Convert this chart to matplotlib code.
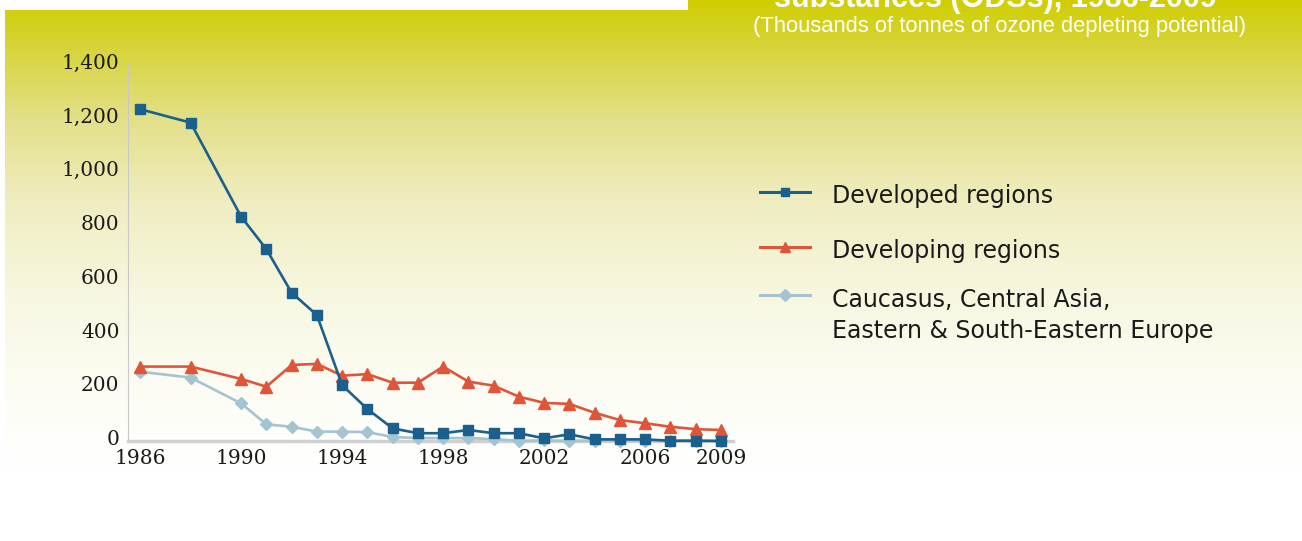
import numpy as np
import matplotlib
matplotlib.use("Agg")
import matplotlib.pyplot as plt
from matplotlib.lines import Line2D
from matplotlib.transforms import ScaledTranslation

# ---------------- data ----------------
years = [1986, 1988, 1990, 1991, 1992, 1993, 1994, 1995, 1996, 1997, 1998,
         1999, 2000, 2001, 2002, 2003, 2004, 2005, 2006, 2007, 2008, 2009]
developed = [1235, 1185, 835, 714, 552, 469, 208, 119, 47, 29, 29,
             41, 29, 29, 10, 25, 6, 6, 6, 1, 1, 0]
developing = [277, 277, 231, 202, 283, 287, 243, 249, 217, 217, 277,
              221, 206, 165, 142, 138, 105, 78, 66, 53, 44, 41]
caucasus = [258, 236, 140, 62, 53, 35, 35, 33, 15, 11, 11,
            11, 7, 1, 2, 1, 1, 1, 1, 1, 1, 1]
series_labels = ["Developed regions", "Developing regions",
                 "Caucasus, Central Asia,\nEastern & South-Eastern Europe"]
x_ticks = [1986, 1990, 1994, 1998, 2002, 2006, 2009]
y_ticks = [0, 200, 400, 600, 800, 1000, 1200, 1400]
title = "substances (ODSs), 1986-2009"
subtitle = "(Thousands of tonnes of ozone depleting potential)"

c_dev = "#1b5f8c"
c_dvg = "#e0553a"
c_cau = "#a3c4d0"

W, H = 1302, 541
fig = plt.figure(figsize=(W / 100, H / 100), dpi=100)
fig.patch.set_facecolor("white")

# ---------------- gradient background ----------------
stops_y = [0, 40, 120, 200, 300, 400, 470, 541]
stops_c = np.array([[208, 206, 0], [214, 211, 50], [227, 224, 138],
                    [239, 237, 192], [248, 247, 226], [253, 253, 246],
                    [255, 255, 255], [255, 255, 255]], dtype=float)
rows = np.arange(H)
grad = np.stack([np.interp(rows, stops_y, stops_c[:, k]) for k in range(3)], axis=1)
img = np.repeat(grad[:, None, :], W, axis=1)
img[0:10, 0:688] = 255
img[:, 0:5] = 255
bg = fig.add_axes([0, 0, 1, 1], zorder=0)
bg.imshow(img.astype(np.uint8), aspect="auto", interpolation="nearest")
bg.axis("off")

# ---------------- main axes ----------------
ax = fig.add_axes([128 / W, (H - 441) / H, (733 - 128) / W, (441 - 63) / H], zorder=1)
ax.set_facecolor("none")
ax.plot(years, caucasus, color=c_cau, lw=1.9, marker="D", ms=6.5, clip_on=False, zorder=3)
ax.plot(years, developing, color=c_dvg, lw=1.9, marker="^", ms=8, clip_on=False, zorder=4)
ax.plot(years, developed, color=c_dev, lw=1.9, marker="s", ms=6.5, clip_on=False, zorder=5)

ax.set_xlim(1985.52, 2009.48)
ax.set_ylim(0, 1407)
ax.set_xticks(x_ticks)
ax.set_xticklabels([str(v) for v in x_ticks])
ax.set_yticks(y_ticks)
ax.set_yticklabels([f"{v:,}" for v in y_ticks])
ax.tick_params(axis="both", length=0, labelsize=14.5, labelcolor="#1a1a1a")
ax.tick_params(axis="y", pad=6)
ax.tick_params(axis="x", pad=6)
for lab in ax.get_xticklabels() + ax.get_yticklabels():
    lab.set_family("DejaVu Serif")
off = ScaledTranslation(0, 3.5 / 100, fig.dpi_scale_trans)
for lab in ax.get_yticklabels():
    lab.set_transform(lab.get_transform() + off)
for s in ["top", "right"]:
    ax.spines[s].set_visible(False)
ax.spines["left"].set_color("#c8c8c8")
ax.spines["left"].set_linewidth(0.8)
ax.spines["bottom"].set_color("#d0d0d0")
ax.spines["bottom"].set_linewidth(2.5)

# ---------------- legend (manual) ----------------
leg_rows = [(191.7, c_dev, "s", 6), (246.7, c_dvg, "^", 7.5), (295, c_cau, "D", 6)]
for (yy, col, mk, ms) in leg_rows:
    fy = 1 - yy / H
    fig.add_artist(Line2D([760 / W, 810 / W], [fy, fy], color=col, lw=2.2,
                          transform=fig.transFigure, zorder=5))
    fig.add_artist(Line2D([785 / W], [fy], color=col, marker=mk, ms=ms, lw=0,
                          transform=fig.transFigure, zorder=5))
text_lines = [(203, series_labels[0]), (258, series_labels[1])]
l3 = series_labels[2].split("\n")
text_lines += [(306.7, l3[0]), (338.3, l3[1])]
for yy, t in text_lines:
    fig.text(832 / W, 1 - yy / H, t, ha="left", va="baseline", fontsize=17,
             family="DejaVu Sans", color="#1a1a1a", zorder=5)

# ---------------- titles ----------------
fig.text(995 / W, 1 - 7 / H, title, ha="center", va="baseline", fontsize=22,
         fontweight="bold", color="white", family="Liberation Sans", zorder=5)
fig.text(1000 / W, 1 - 32 / H, subtitle, ha="center", va="baseline", fontsize=15.8,
         color="white", family="Liberation Sans", zorder=5)

fig.savefig("out.png", dpi=100)
